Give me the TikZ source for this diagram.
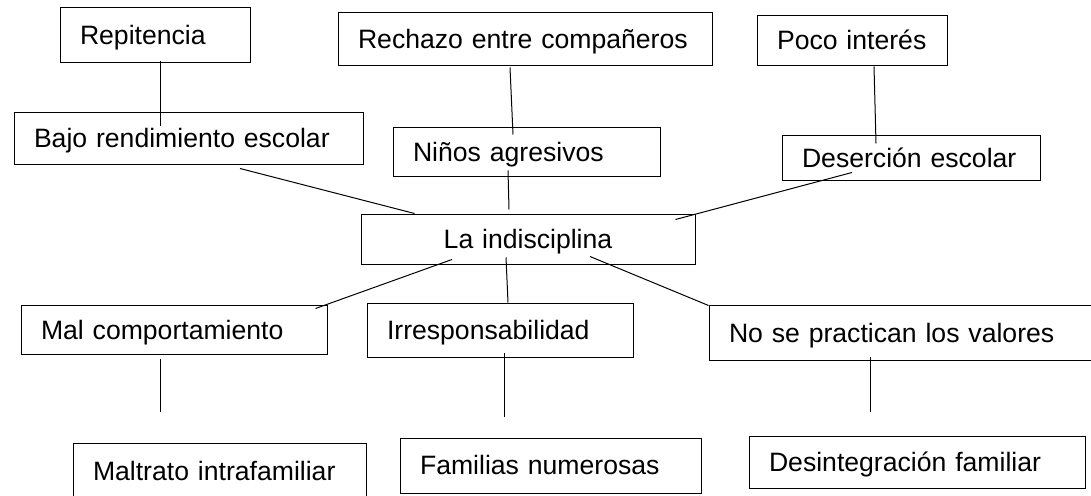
\documentclass[tikz,border=0pt]{standalone}
\usepackage{fontspec}
\setmainfont{Liberation Sans}
\begin{document}
\begin{tikzpicture}[x=1pt,y=1pt,
    box/.style={draw,line width=1pt,align=left,inner xsep=20pt,inner ysep=0pt,
        text height=24pt,text depth=6pt,font=\fontsize{26.6}{30}\selectfont},
    link/.style={line width=1pt}]
        \useasboundingbox (0,0) rectangle (1091,495);

        \node[box,text width=150pt,minimum height=55pt] (repitencia) at (155,459.5) {Repitencia};
        \node[box,text width=309pt,minimum height=52pt] (bajo) at (188.5,356) {Bajo rendimiento escolar};
        \node[box,text width=334pt,minimum height=53pt] (rechazo) at (525,455.5) {Rechazo entre compañeros};
        \node[box,text width=227pt,minimum height=49pt] (agresivos) at (526.5,342.5) {Niños agresivos};
        \node[box,text width=150pt,minimum height=50pt] (interes) at (852,454) {Poco interés};
        \node[box,text width=218pt,minimum height=45pt] (desercion) at (911,336.5) {Deserción escolar};

        \node[box,align=center,text width=294pt,minimum height=50pt] (indisciplina) at (528,255) {La indisciplina};

        \node[box,text width=266pt,minimum height=49pt] (comportamiento) at (174,164.5) {Mal comportamiento};
        \node[box,text width=226pt,minimum height=54pt] (irresponsabilidad) at (500,164) {Irresponsabilidad};
        \node[box,text width=347pt,minimum height=55pt] (valores) at (902.5,161.5) {No se practican los valores};

        \node[box,text width=253pt,minimum height=57pt] (maltrato) at (219.5,23.5) {Maltrato intrafamiliar};
        \node[box,text width=261pt,minimum height=55pt] (familias) at (550.5,29.5) {Familias numerosas};
        \node[box,text width=296pt,minimum height=52pt] (desintegracion) at (917,33) {Desintegración familiar};

        \draw[link] ([shift={(5,2)}]repitencia.south) -- ([shift={(-28.5,-14)}]bajo.north);
        \draw[link] ([shift={(-15,-1)}]rechazo.south) -- ([shift={(-13.5,-7)}]agresivos.north);
        \draw[link] ([shift={(22,0)}]interes.south) -- ([shift={(-35,-8)}]desercion.north);

        \draw[link] ([shift={(51.5,-3)}]bajo.south) -- ([shift={(54,1)}]indisciplina.north west);
        \draw[link] ([shift={(-18.5,7)}]agresivos.south) -- ([shift={(-19,5)}]indisciplina.north);
        \draw[link] ([shift={(-59,9)}]desercion.south) -- ([shift={(-20,-5)}]indisciplina.north east);

        \draw[link] ([shift={(-76,6)}]indisciplina.south) -- ([shift={(-12,-3)}]comportamiento.north east);
        \draw[link] ([shift={(-22,8)}]indisciplina.south) -- ([shift={(8,1)}]irresponsabilidad.north);
        \draw[link] ([shift={(62,9)}]indisciplina.south) -- (valores.north west);

        \draw[link] ([shift={(-14,-4)}]comportamiento.south) -- ([shift={(-59.5,30)}]maltrato.north);
        \draw[link] ([shift={(4,5)}]irresponsabilidad.south) -- ([shift={(-46.5,20)}]familias.north);
        \draw[link] ([shift={(-32.5,4)}]valores.south) -- ([shift={(-47,23)}]desintegracion.north);

    \end{tikzpicture}
\end{document}
